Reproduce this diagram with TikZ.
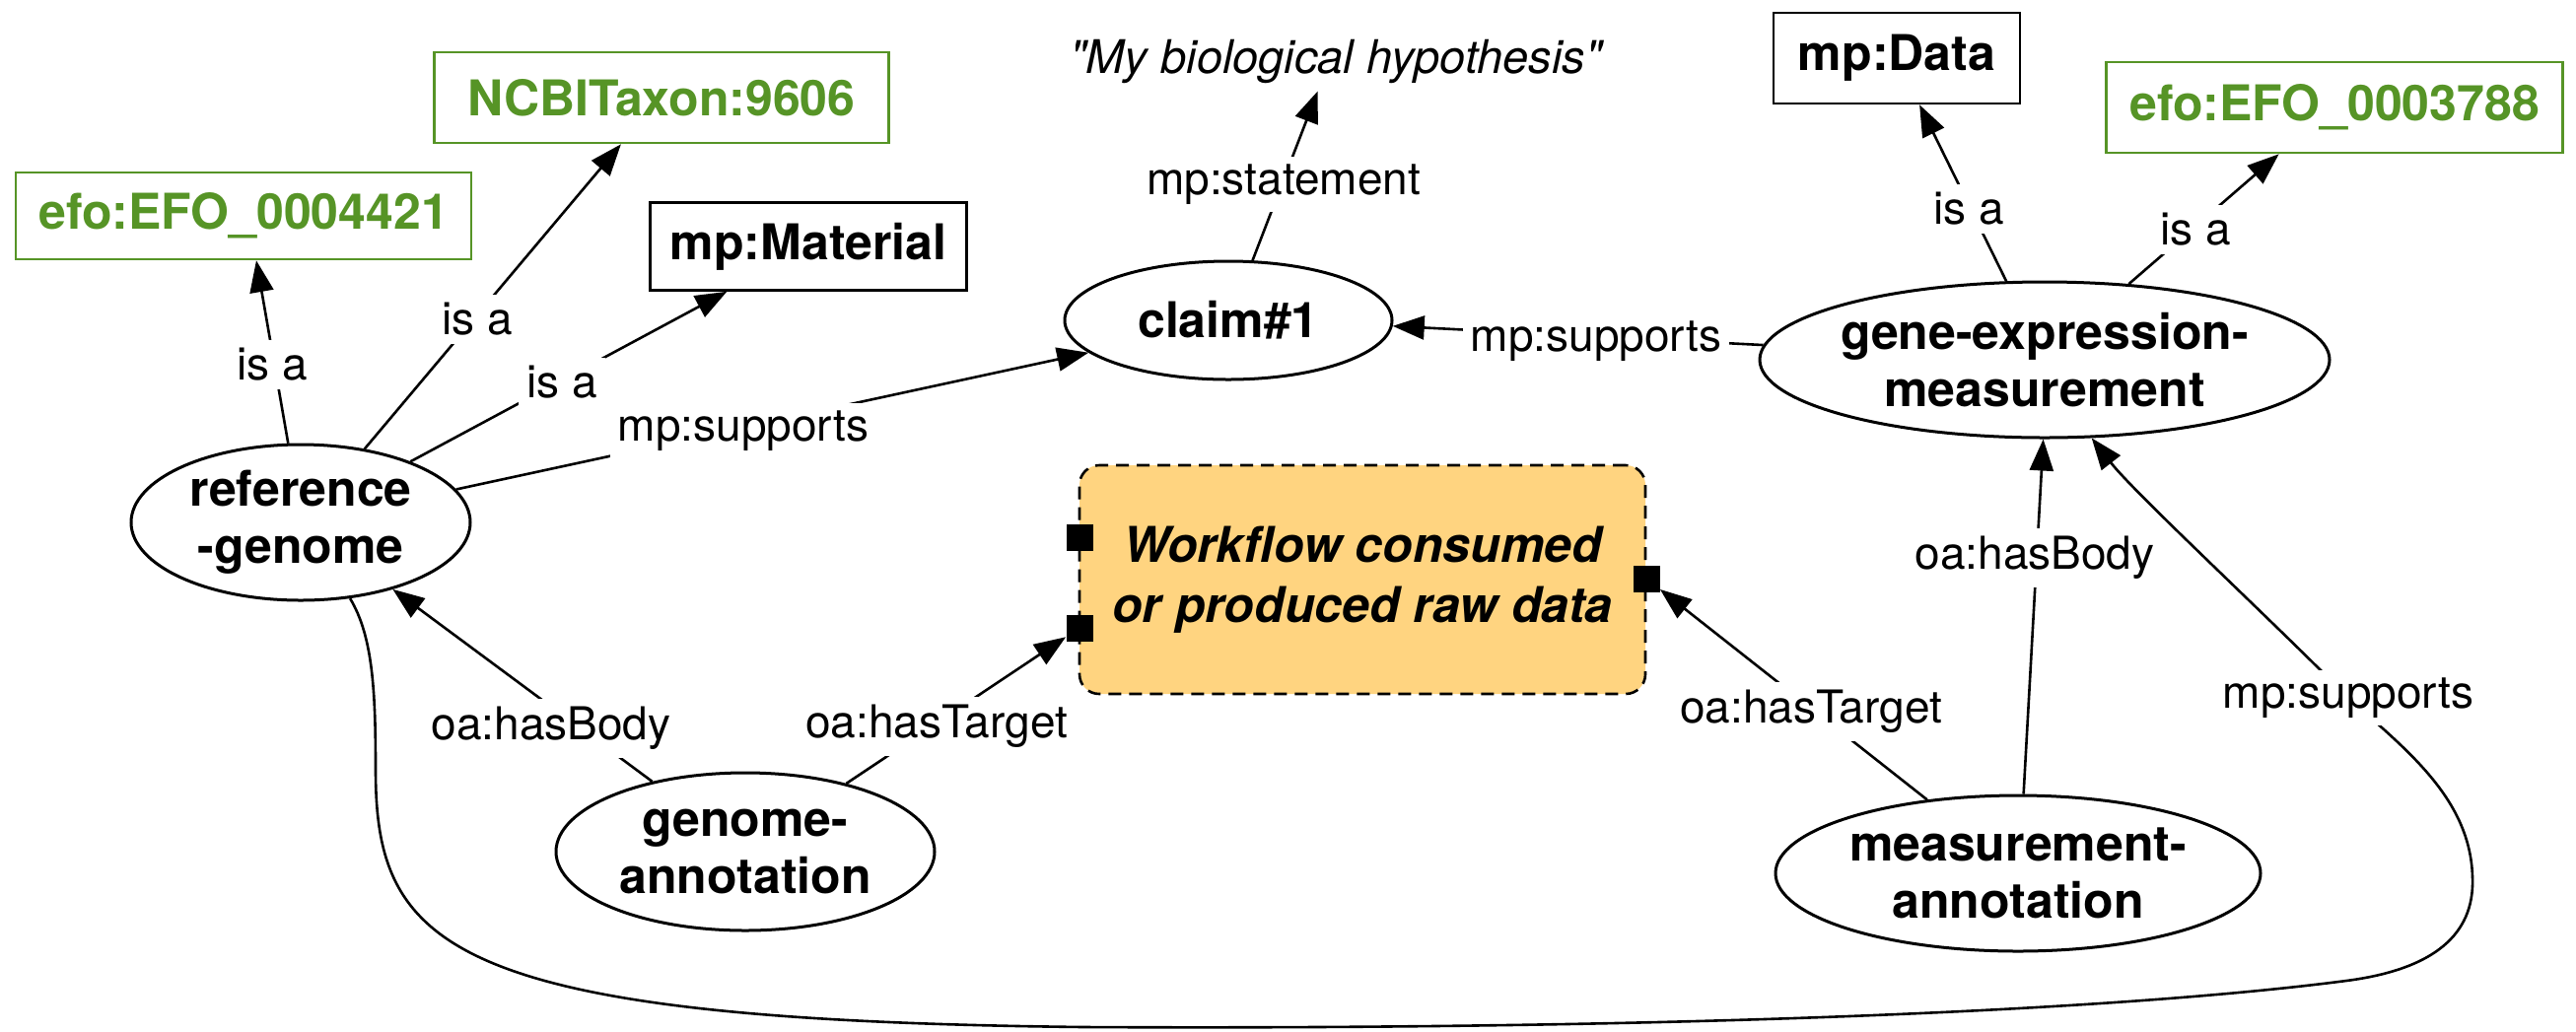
\documentclass[tikz,border=0pt]{standalone}
\usepackage{fontspec}
\setmainfont{TeX Gyre Heros}
\usetikzlibrary{shapes.geometric,arrows.meta}
\definecolor{efogreen}{RGB}{86,148,38}
\definecolor{wforange}{RGB}{255,212,128}
\begin{document}
\begin{tikzpicture}[x=0.5pt,y=-0.5pt,
  lbl/.style={font=\fontsize{23}{27}\selectfont, fill=white, inner sep=4pt},
  ent/.style={ellipse, draw, line width=1.5pt, font=\fontsize{25}{29}\selectfont\bfseries, align=center, inner xsep=-80pt, inner ysep=-15pt},
  cls/.style={rectangle, draw, line width=1.3pt, font=\fontsize{25}{29}\selectfont\bfseries, inner sep=0pt},
  ont/.style={cls, draw=efogreen, text=efogreen},
  port/.style={rectangle, fill=black, inner sep=0pt, minimum size=13.5pt},
  conn/.style={line width=1.3pt, -{Triangle[length=16pt,width=12pt]}}]
\fill[white] (0,0) rectangle (2613,1046);
\useasboundingbox (0,0) rectangle (2613,1046);

% class / ontology boxes
\node[ont, minimum width=231pt, minimum height=44pt] (efo1) at (247,219) {efo:EFO\_0004421};
\node[ont, minimum width=230.5pt, minimum height=46pt] (ncbi) at (671,99) {NCBITaxon:9606};
\node[cls, minimum width=160.5pt, minimum height=44.5pt] (mat) at (820,250) {mp:Material};
\node[cls, minimum width=125pt, minimum height=46pt] (data) at (1924,59) {mp:Data};
\node[ont, minimum width=231.5pt, minimum height=46pt] (efo2) at (2368,109) {efo:EFO\_0003788};
\node[font=\fontsize{23.5}{27}\selectfont\itshape\addfontfeatures{Ligatures=TeXOff}, inner sep=0pt, minimum width=280pt, minimum height=30pt] (hyp) at (1355,62) {"My biological hypothesis"};

% entities
\node[ent, minimum width=172pt, minimum height=79pt] (rg) at (305,530) {reference\\-genome};
\node[ent, minimum width=166pt, minimum height=60pt] (claim) at (1246,325) {claim\#1};
\node[ent, minimum width=289pt, minimum height=79pt] (gem) at (2074,365) {gene-expression-\\measurement};
\node[ent, minimum width=192pt, minimum height=80pt] (ga) at (756,864) {genome-\\annotation};
\node[ent, minimum width=246pt, minimum height=79pt] (ma) at (2047,886) {measurement-\\annotation};

% workflow box
\node[rectangle, rounded corners=10pt, draw, dashed, dash pattern=on 6.5pt off 4pt, line width=1.3pt, fill=wforange,
      minimum width=287pt, minimum height=116pt, align=center,
      font=\fontsize{25}{30.5}\selectfont\bfseries\itshape] (wf) at (1382,588) {Workflow consumed\\or produced raw data};
\node[port] (p1) at (1095,545) {};
\node[port] (p2) at (1095,637) {};
\node[port] (p3) at (1670,587) {};

% connectors
\draw[conn] (rg.99) -- (efo1.-74);
\draw[conn] (rg.49) -- (ncbi.-131);
\draw[conn] (rg.29) -- (mat.-151);
\draw[conn] (rg.12) -- (claim.193);
\draw[conn] (claim.68) -- (hyp.-121);
\draw[conn] (gem.177) -- (claim.-2);
\draw[conn] (gem.116) -- (data.-64);
\draw[conn] (gem.42) -- (efo2.-140);
\draw[conn] (ga.143) -- (rg.-36);
\draw[conn] (ga.34) -- (p2);
\draw[conn] (ma.141) -- (p3);
\draw[conn] (ma.86) -- (gem.-91);
\draw[conn] (rg.-57) .. controls (378,645) and (381,700) .. (381,780)
  .. controls (381,960) and (450,1035) .. (1100,1042)
  .. controls (1700,1045) and (2150,1025) .. (2380,995)
  .. controls (2480,982) and (2510,940) .. (2508,890)
  .. controls (2506,810) and (2440,760) .. (2382,708)
  .. controls (2300,625) and (2165,500) .. (gem.-59);

% labels
\node[lbl] (l1) at (276,370) {is a};
\node[lbl] (l2) at (484,324) {is a};
\node[lbl] (l3) at (570,388) {is a};
\node[lbl] (l4) at (754,437) {mp:supports};
\node[lbl] (l5) at (1302,187) {mp:statement};
\node[lbl] (l6) at (1619,346) {mp:supports};
\node[lbl] (l7) at (1997,212) {is a};
\node[lbl] (l8) at (2227,233) {is a};
\node[lbl] (l9) at (559,739) {oa:hasBody};
\node[lbl] (l10) at (950,737) {oa:hasTarget};
\node[lbl] (l11) at (1837,722) {oa:hasTarget};
\node[lbl] (l12) at (2064,566) {oa:hasBody};
\node[lbl] (l13) at (2382,708) {mp:supports};
\end{tikzpicture}
\end{document}
